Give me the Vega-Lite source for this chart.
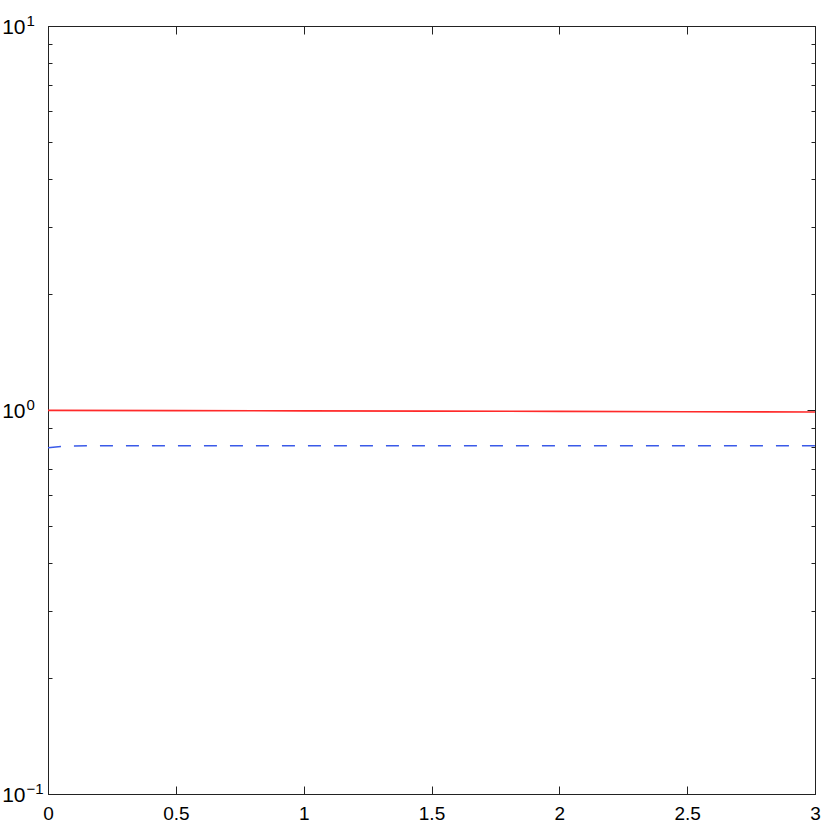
{
  "$schema": "https://vega.github.io/schema/vega-lite/v6.json",
  "width": 767,
  "height": 768,
  "autosize": "none",
  "padding": {"left": 48, "top": 26, "right": 15, "bottom": 28},
  "background": "white",
  "config": {
    "view": {"stroke": "#222222", "strokeWidth": 1},
    "axis": {
      "grid": false,
      "domainColor": "#222222",
      "domainWidth": 1,
      "tickColor": "#222222",
      "tickWidth": 1,
      "labelFont": "Liberation Sans",
      "labelFontSize": 21,
      "labelColor": "black",
      "title": null
    }
  },
  "datasets": {
    "red": [
      {"x": 0, "y": 0.998},
      {"x": 0.5, "y": 0.996},
      {"x": 1, "y": 0.995},
      {"x": 1.5, "y": 0.993},
      {"x": 2, "y": 0.992},
      {"x": 2.5, "y": 0.990},
      {"x": 3, "y": 0.988}
    ],
    "blue": [
      {"x": 0, "y": 0.798},
      {"x": 0.05, "y": 0.803},
      {"x": 0.1, "y": 0.806},
      {"x": 0.2, "y": 0.807},
      {"x": 1, "y": 0.807},
      {"x": 2, "y": 0.807},
      {"x": 3, "y": 0.807}
    ]
  },
  "layer": [
    {
      "data": {"name": "red"},
      "mark": {"type": "line", "color": "#ff2a2a", "strokeWidth": 1.6, "clip": true},
      "encoding": {
        "x": {
          "field": "x", "type": "quantitative",
          "scale": {"domain": [0, 3], "nice": false, "zero": false},
          "axis": {
            "orient": "bottom",
            "values": [0, 0.5, 1, 1.5, 2, 2.5, 3],
            "format": "~g",
            "tickSize": -8,
            "labelFontSize": 19,
            "labelPadding": 18,
            "labelFlush": false,
            "labelOverlap": false
          }
        },
        "y": {
          "field": "y", "type": "quantitative",
          "scale": {"type": "log", "domain": [0.1, 10], "nice": false},
          "axis": {
            "orient": "left",
            "values": [0.1, 0.2, 0.3, 0.4, 0.5, 0.6, 0.7, 0.8, 0.9, 1, 2, 3, 4, 5, 6, 7, 8, 9, 10],
            "tickSize": {"condition": {"test": "datum.value == 1 || datum.value == 10 || datum.value == 0.1", "value": -8}, "value": -4},
            "labels": false
          }
        }
      }
    },
    {
      "data": {"name": "blue"},
      "mark": {"type": "line", "color": "#3a5ae8", "strokeWidth": 1.5, "strokeDash": [13, 13], "clip": true},
      "encoding": {
        "x": {
          "field": "x", "type": "quantitative",
          "scale": {"domain": [0, 3], "nice": false, "zero": false},
          "axis": {
            "orient": "top",
            "values": [0, 0.5, 1, 1.5, 2, 2.5, 3],
            "tickSize": -8,
            "labels": false
          }
        },
        "y": {
          "field": "y", "type": "quantitative",
          "scale": {"type": "log", "domain": [0.1, 10], "nice": false},
          "axis": {
            "orient": "right",
            "values": [0.1, 0.2, 0.3, 0.4, 0.5, 0.6, 0.7, 0.8, 0.9, 1, 2, 3, 4, 5, 6, 7, 8, 9, 10],
            "tickSize": {"condition": {"test": "datum.value == 1 || datum.value == 10 || datum.value == 0.1", "value": -8}, "value": -4},
            "labels": false
          }
        }
      }
    },
    {
      "data": {"name": "red"},
      "mark": {"type": "line", "strokeOpacity": 0, "clip": true},
      "encoding": {
        "y": {
          "field": "y", "type": "quantitative",
          "scale": {"type": "log", "domain": [0.1, 10], "nice": false},
          "axis": {
            "orient": "left",
            "values": [0.1, 1, 10],
            "labelExpr": "'10'",
            "domain": false,
            "ticks": false,
            "labelPadding": 23,
            "labelAlign": "right",
            "labelBaseline": "middle",
            "labelOffset": 1,
            "labelFlush": false,
            "labelOverlap": false
          }
        }
      }
    },
    {
      "data": {"name": "red"},
      "mark": {"type": "line", "strokeOpacity": 0, "clip": true},
      "encoding": {
        "y": {
          "field": "y", "type": "quantitative",
          "scale": {"type": "log", "domain": [0.1, 10], "nice": false},
          "axis": {
            "orient": "left",
            "values": [0.1, 1, 10],
            "labelExpr": "datum.value == 10 ? '1' : datum.value == 1 ? '0' : '−1'",
            "labelFontSize": 15,
            "domain": false,
            "ticks": false,
            "labelPadding": 22,
            "labelAlign": "left",
            "labelBaseline": "alphabetic",
            "labelOffset": -1,
            "labelFlush": false,
            "labelOverlap": false
          }
        }
      }
    }
  ],
  "resolve": {"axis": {"x": "independent", "y": "independent"}}
}
